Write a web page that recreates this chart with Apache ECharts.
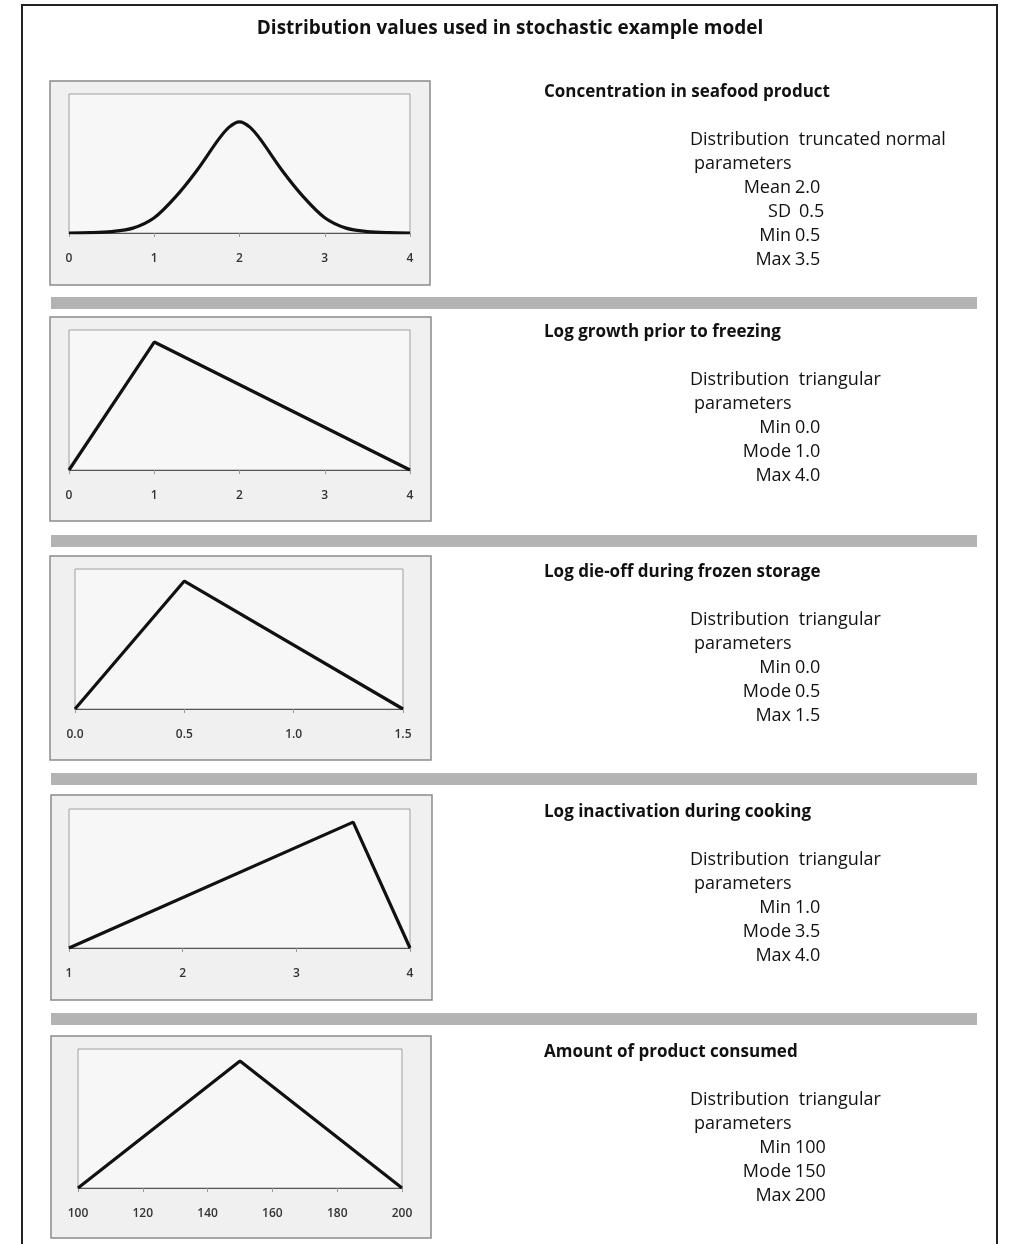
<!DOCTYPE html>
<html>
<head>
<meta charset="utf-8">
<script src="https://cdn.jsdelivr.net/npm/echarts@6/dist/echarts.min.js"></script>
<style>
html,body{margin:0;padding:0;background:#fff;}
#chart{width:1010px;height:1244px;}
</style>
</head>
<body>
<div id="chart"></div>
<script>
// ---- data ----
const chartTitle = 'Distribution values used in stochastic example model';
const headings = ['Concentration in seafood product','Log growth prior to freezing','Log die-off during frozen storage','Log inactivation during cooking','Amount of product consumed'];
const distNames = ['truncated normal','triangular','triangular','triangular','triangular'];
const paramNames = [['Mean','SD','Min','Max'],['Min','Mode','Max'],['Min','Mode','Max'],['Min','Mode','Max'],['Min','Mode','Max']];
const paramValues = [['2.0','0.5','0.5','3.5'],['0.0','1.0','4.0'],['0.0','0.5','1.5'],['1.0','3.5','4.0'],['100','150','200']];

// panel 1: truncated normal curve (relative density)
const normalX = [0,0.25,0.5,0.75,1.0,1.25,1.5,1.75,1.875,2.0,2.125,2.25,2.5,2.75,3.0,3.25,3.5,3.75,4.0];
const normalY = [0.0,0.002,0.01,0.035,0.11,0.26,0.45,0.67,0.76,0.80,0.76,0.67,0.45,0.26,0.11,0.035,0.01,0.002,0.0];
// triangular distributions: x = [min, mode, max], y = density
const growthX = [0,1,4];      const growthY = [0,0.5,0];
const dieoffX = [0,0.5,1.5];  const dieoffY = [0,1.3333,0];
const inactX  = [1,3.5,4];    const inactY  = [0,0.6667,0];
const amountX = [100,150,200];const amountY = [0,0.02,0];

// axis settings
const xMin = [0,0,0,1,100];
const xMax = [4,4,1.5,4,200];
const xInterval = [1,1,0.5,1,20];
const xDecimals = [0,0,1,0,0];
const yMax = [1.0,0.547,1.459,0.736,0.02188];

// ---- layout ----
const gridBox = [ // left, right, top, bottom(baseline)
  [69,410,94,233],
  [69,410,330,470],
  [75,403,569,709],
  [69,410,809,948],
  [78,402,1049,1188]
];
const outerBox = [[50,81,430,285],[50,317,431,521],[50,556,431,760],[51,795,432,1000],[51,1036,431,1238]];
const barY = [297,535,773,1013];
const textTop = [92,332,572,812,1052];

const seriesData = [
  normalX.map((x,i)=>[x,normalY[i]]),
  growthX.map((x,i)=>[x,growthY[i]]),
  dieoffX.map((x,i)=>[x,dieoffY[i]]),
  inactX.map((x,i)=>[x,inactY[i]]),
  amountX.map((x,i)=>[x,amountY[i]])
];

const grids = [], xAxes = [], yAxes = [], series = [], graphics = [];
const FONT = '"Open Sans"';

// outer frame
graphics.push({type:'rect', z:-20, shape:{x:22,y:5,width:975,height:1260}, style:{fill:'#fff',stroke:'#222',lineWidth:2}});
graphics.push({type:'text', z:10, style:{text:chartTitle, x:510, y:29, textAlign:'center', textVerticalAlign:'middle', font:'bold 19px '+FONT, fill:'#111'}});

barY.forEach(y=>{
  graphics.push({type:'rect', z:-15, shape:{x:51,y:y,width:926,height:12}, style:{fill:'#b3b3b3'}});
});

for (let p=0;p<5;p++){
  const g = gridBox[p], o = outerBox[p];
  graphics.push({type:'rect', z:-10, shape:{x:o[0],y:o[1],width:o[2]-o[0],height:o[3]-o[1]}, style:{fill:'#f0f0f0',stroke:'#8a8a8a',lineWidth:1.5}});
  grids.push({left:g[0], width:g[1]-g[0], top:g[2], height:g[3]-g[2], show:true, backgroundColor:'#f7f7f7', borderColor:'#a0a0a0', borderWidth:1, containLabel:false});
  const dec = xDecimals[p];
  xAxes.push({type:'value', gridIndex:p, min:xMin[p], max:xMax[p], interval:xInterval[p],
    axisLine:{show:true,lineStyle:{color:'#555',width:1}},
    axisTick:{show:true,length:4,lineStyle:{color:'#999'}},
    splitLine:{show:false},
    axisLabel:{margin:20, fontSize:12, fontWeight:600, color:'#333', fontFamily:FONT, formatter:v=>v.toFixed(dec)}
  });
  yAxes.push({type:'value', gridIndex:p, min:0, max:yMax[p], show:false, splitLine:{show:false}});
  series.push({type:'line', xAxisIndex:p, yAxisIndex:p, data:seriesData[p], showSymbol:false, symbol:'none',
    smooth: p===0 ? 0.3 : false, lineStyle:{color:'#111', width:3.2}, silent:true, animation:false});

  // right-hand texts
  const t = textTop[p];
  graphics.push({type:'text', z:10, style:{text:headings[p], x:544, y:t, textVerticalAlign:'middle', font:'bold 17px '+FONT, fill:'#111'}});
  graphics.push({type:'text', z:10, style:{text:'Distribution  '+distNames[p], x:690, y:t+48, textVerticalAlign:'middle', font:'18px '+FONT, fill:'#111'}});
  graphics.push({type:'text', z:10, style:{text:'parameters', x:694, y:t+72, textVerticalAlign:'middle', font:'18px '+FONT, fill:'#111'}});
  paramNames[p].forEach((nm,i)=>{
    graphics.push({type:'text', z:10, style:{text:nm, x:791, y:t+96+24*i, textAlign:'right', textVerticalAlign:'middle', font:'18px '+FONT, fill:'#111'}});
    graphics.push({type:'text', z:10, style:{text:paramValues[p][i], x:(nm==='SD'?799:795), y:t+96+24*i, textAlign:'left', textVerticalAlign:'middle', font:'18px '+FONT, fill:'#111'}});
  });
}

const chart = echarts.init(document.getElementById('chart'), null, {renderer:'canvas'});
chart.setOption({
  animation:false,
  backgroundColor:'#fff',
  grid:grids, xAxis:xAxes, yAxis:yAxes, series:series,
  graphic:{elements:graphics}
});
</script>
</body>
</html>
